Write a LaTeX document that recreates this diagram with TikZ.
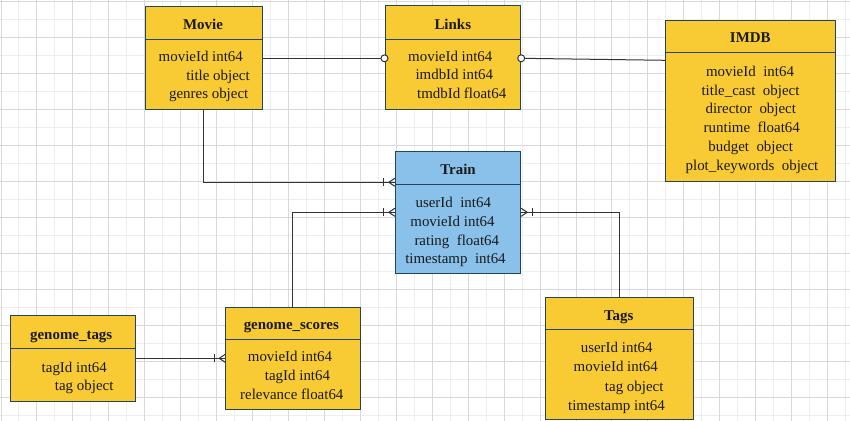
\documentclass[tikz,border=0pt]{standalone}
\usepackage{fontspec}
\setmainfont{Liberation Serif}
\usetikzlibrary{fit}
\definecolor{yfill}{HTML}{F8CA33}
\definecolor{bfill}{HTML}{89C1EB}
\definecolor{edge}{HTML}{23445D}
\definecolor{lnk}{HTML}{333333}
\definecolor{gminor}{HTML}{EEEEEE}
\definecolor{gmajor}{HTML}{D9D9D9}
\definecolor{ink}{HTML}{1A1A1A}
\newcommand\ermany[2]{%
  \begin{scope}[shift={(#1)}, xscale=#2]
    \draw[conn] (-11,-4) -- (-11,4);
    \draw[conn] (0,-4) -- (-6,0) -- (0,4);
  \end{scope}}
\tikzset{
  ybox/.style={draw=edge, fill=yfill, line width=0.75pt, inner sep=0pt, rectangle},
  bbox/.style={draw=edge, fill=bfill, line width=0.75pt, inner sep=0pt, rectangle},
  divider/.style={draw=edge, line width=0.75pt},
  conn/.style={draw=lnk, line width=0.75pt},
  ttl/.style={font=\fontsize{11.2}{13}\selectfont\bfseries, text=ink, inner sep=0pt, text height=7.5pt, text depth=2pt, yshift=-1.8pt},
  txt/.style={font=\fontsize{11.2}{13}\selectfont, text=ink, inner sep=0pt, text height=7.5pt, text depth=2pt, yshift=-1.8pt},
}
\begin{document}
\begin{tikzpicture}[x=0.75pt, y=-0.75pt]
\useasboundingbox (0,0) rectangle (850,421);
\fill[white] (0,0) rectangle (850,421);
% grid
\foreach \k in {1,3,...,47} {\draw[gminor, line width=0.75pt] ({1+17.97*\k},0) -- ({1+17.97*\k},421);}
\foreach \k in {1,3,...,23} {\draw[gminor, line width=0.75pt] (0,{1+18*\k}) -- (850,{1+18*\k});}
\foreach \k in {0,2,...,46} {\draw[gmajor, line width=0.75pt] ({1+17.97*\k},0) -- ({1+17.97*\k},421);}
\foreach \k in {0,2,...,22} {\draw[gmajor, line width=0.75pt] (0,{1+18*\k}) -- (850,{1+18*\k});}

% boxes
\node[ybox, fit={(145,6) (262.7,109)}] (movie) {};
\node[ybox, fit={(385,5.7) (520.7,109)}] (links) {};
\node[ybox, fit={(665.7,20.3) (835,181.3)}] (imdb) {};
\node[bbox, fit={(395.3,151.7) (520.7,273.3)}] (train) {};
\node[ybox, fit={(10.7,315.7) (135.7,401)}] (gtags) {};
\node[ybox, fit={(225.7,307.3) (360.3,409)}] (gscores) {};
\node[ybox, fit={(545.7,297.3) (693.3,419)}] (tags) {};

% dividers
\draw[divider] (movie.west |- 0,39.3) -- (movie.east |- 0,39.3);
\draw[divider] (links.west |- 0,39.3) -- (links.east |- 0,39.3);
\draw[divider] (imdb.west |- 0,52.3) -- (imdb.east |- 0,52.3);
\draw[divider] (train.west |- 0,184) -- (train.east |- 0,184);
\draw[divider] (gtags.west |- 0,348.3) -- (gtags.east |- 0,348.3);
\draw[divider] (gscores.west |- 0,339.3) -- (gscores.east |- 0,339.3);
\draw[divider] (tags.west |- 0,329) -- (tags.east |- 0,329);

% Movie
\node[ttl] (movieT) at (203,23.3) {Movie};
\node[txt] (movie1) at (200.8,55) {movieId int64};
\node[txt] (movie2) at (218,74) {title object};
\node[txt] (movie3) at (208.7,92.7) {genres object};
% Links
\node[ttl] (linksT) at (452.8,23.3) {Links};
\node[txt] (links1) at (450.3,55) {movieId int64};
\node[txt] (links2) at (454.3,73.3) {imdbId int64};
\node[txt] (links3) at (461.7,92.7) {tmdbId float64};
% IMDB
\node[ttl] (imdbT) at (750.3,36) {IMDB};
\node[txt] (imdb1) at (750,70) {movieId~ int64};
\node[txt] (imdb2) at (750.5,89) {title\_cast~ object};
\node[txt] (imdb3) at (750.8,107.7) {director~ object};
\node[txt] (imdb4) at (751.8,126.7) {runtime~ float64};
\node[txt] (imdb5) at (750.7,145.7) {budget~ object};
\node[txt] (imdb6) at (752,164.3) {plot\_keywords~ object};
% Train
\node[ttl] (trainT) at (458,168.3) {Train};
\node[txt] (train1) at (453.3,201) {userId~ int64};
\node[txt] (train2) at (452.5,220) {movieId int64};
\node[txt] (train3) at (456.8,239) {rating~ float64};
\node[txt] (train4) at (455.5,257.3) {timestamp~ int64};
% genome_tags
\node[ttl] (gtagsT) at (71.2,333.3) {genome\_tags};
\node[txt] (gtags1) at (74.3,366) {tagId int64};
\node[txt] (gtags2) at (84.2,384.3) {tag object};
% genome_scores
\node[ttl] (gscoresT) at (291.3,323.3) {genome\_scores};
\node[txt] (gscores1) at (290,355.7) {movieId int64};
\node[txt] (gscores2) at (297.5,374.3) {tagId int64};
\node[txt] (gscores3) at (291.8,393.3) {relevance float64};
% Tags
\node[ttl] (tagsT) at (618.8,314) {Tags};
\node[txt] (tags1) at (616.7,346.7) {userId int64};
\node[txt] (tags2) at (615.8,365.7) {movieId int64};
\node[txt] (tags3) at (634.2,385) {tag object};
\node[txt] (tags4) at (616.5,404) {timestamp int64};

% connectors
\draw[conn] (movie.east |- 0,58.3) -- (links.west |- 0,58.3);
\draw[conn, fill=white] (links.west |- 0,58.3) circle (3.5);
\draw[conn] (links.east |- 0,58.3) -- (imdb.west |- 0,60.3);
\draw[conn, fill=white] (links.east |- 0,58.3) circle (3.5);

\draw[conn] (203.3,109) coordinate (mvb) -- (mvb |- 0,182.3) -- (train.west |- 0,182.3);
\ermany{train.west |- 0,182.3}{1}
\draw[conn] (292.7,307.3) coordinate (gsb) -- (gsb |- 0,212.3) -- (train.west |- 0,212.3);
\ermany{train.west |- 0,212.3}{1}
\draw[conn] (619.3,297.3) coordinate (tgb) -- (tgb |- 0,212.3) -- (train.east |- 0,212.3);
\ermany{train.east |- 0,212.3}{-1}
\draw[conn] (gtags.east |- 0,358.3) -- (gscores.west |- 0,358.3);
\ermany{gscores.west |- 0,358.3}{1}
\end{tikzpicture}
\end{document}
